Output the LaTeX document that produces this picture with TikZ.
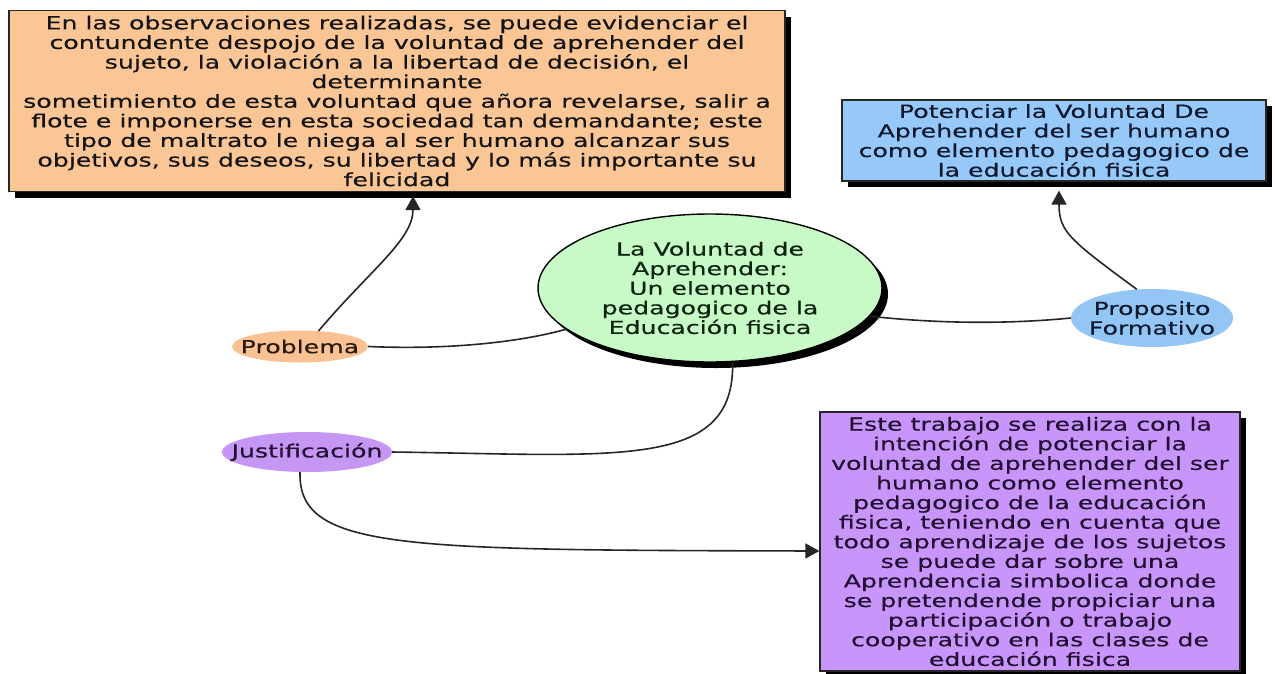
\documentclass[tikz,border=0pt]{standalone}
\usepackage{fontspec}
\newfontfamily\vfont[FakeStretch=1.40,FakeBold=0.35]{DejaVu Sans}
\usetikzlibrary{shapes.geometric,shadows,arrows.meta}
\definecolor{orangefill}{RGB}{250,198,150}
\definecolor{orangeell}{RGB}{250,194,146}
\definecolor{bluefill}{RGB}{150,200,250}
\definecolor{blueell}{RGB}{148,198,245}
\definecolor{greenfill}{RGB}{200,250,200}
\definecolor{purplefill}{RGB}{200,150,250}
\definecolor{purpleell}{RGB}{198,150,245}
\definecolor{inktext}{RGB}{20,20,20}
\definecolor{inkblue}{RGB}{15,25,45}
\definecolor{inkgreen}{RGB}{15,35,15}
\definecolor{inkpurple}{RGB}{35,15,50}
\definecolor{inkbrown}{RGB}{40,25,15}
\tikzset{
  txt/.style={font=\vfont\fontsize{18}{19.6}\selectfont, text=inktext, align=center},
  shadowed/.style={drop shadow={shadow xshift=6pt, shadow yshift=-6pt, fill=black, opacity=1}},
  boxnode/.style={txt, shadowed, draw=black!85, line width=1.2pt, rectangle, inner sep=0pt},
  mainell/.style={txt, shadowed, ellipse, draw=black, line width=1.4pt, inner sep=0pt},
  tagell/.style={txt, ellipse, inner xsep=-20pt, inner ysep=-5pt},
  conn/.style={draw=black!85, line width=1.6pt},
  arr/.style={conn, -{Triangle[width=15pt,length=14pt]}}
}
\begin{document}
\begin{tikzpicture}[x=1pt,y=-1pt]
\fill[white] (0,0) rectangle (1275,673);
\useasboundingbox (0,0) rectangle (1275,673);

\node[boxnode, fill=orangefill, minimum width=776pt, minimum height=181pt] (obs) at (397,101)
 {En las observaciones realizadas, se puede evidenciar el\\
  contundente despojo de la voluntad de aprehender del\\
  sujeto, la violación a la libertad de decisión, el\\
  determinante\\
  sometimiento de esta voluntad que añora revelarse, salir a\\
  flote e imponerse en esta sociedad tan demandante; este\\
  tipo de maltrato le niega al ser humano alcanzar sus\\
  objetivos, sus deseos, su libertad y lo más importante su\\
  felicidad};

\node[boxnode, fill=bluefill, text=inkblue, minimum width=424pt, minimum height=81pt] (pot) at (1054,140.5)
 {Potenciar la Voluntad De\\
  Aprehender del ser humano\\
  como elemento pedagogico de\\
  la educación fisica};

\node[boxnode, fill=purplefill, text=inkpurple, minimum width=420pt, minimum height=259pt] (est) at (1030,541.5)
 {Este trabajo se realiza con la\\
  intención de potenciar la\\
  voluntad de aprehender del ser\\
  humano como elemento\\
  pedagogico de la educación\\
  fisica, teniendo en cuenta que\\
  todo aprendizaje de los sujetos\\
  se puede dar sobre una\\
  Aprendencia simbolica donde\\
  se pretendende propiciar una\\
  participación o trabajo\\
  cooperativo en las clases de\\
  educación fisica};

\node[mainell, fill=greenfill, text=inkgreen, minimum width=344pt, minimum height=148pt] (main) at (710,288)
 {La Voluntad de\\
  Aprehender:\\
  Un elemento\\
  pedagogico de la\\
  Educación fisica};

\node[tagell, fill=orangeell, text=inkbrown, minimum width=136pt, minimum height=32pt] (prob) at (300,346.5) {Problema};
\node[tagell, fill=blueell, text=inkblue, minimum width=162pt, minimum height=58pt] (prop) at (1152,318) {Proposito\\Formativo};
\node[tagell, fill=purpleell, text=inkpurple, minimum width=170pt, minimum height=40pt] (just) at (307,452) {Justificación};

% connectors
\draw[arr] (prob.40) .. controls (370,270) and (413,240) .. ([xshift=16pt,yshift=-4pt]obs.south);
\draw[conn] (main.196) .. controls (520,342) and (450,350) .. (prob.east);
\draw[conn] (main.-10) .. controls (950,325) and (1020,323) .. (prop.west);
\draw[arr] (prop.118) .. controls (1070,240) and (1059,232) .. ([xshift=5pt,yshift=-9pt]pot.south);
\draw[conn] (main.-73) .. controls (735,470) and (620,455) .. (just.east);
\draw[arr] ([xshift=-7pt]just.south) .. controls (298,550) and (400,550) .. ([yshift=-9.5pt]est.west);
\end{tikzpicture}
\end{document}
